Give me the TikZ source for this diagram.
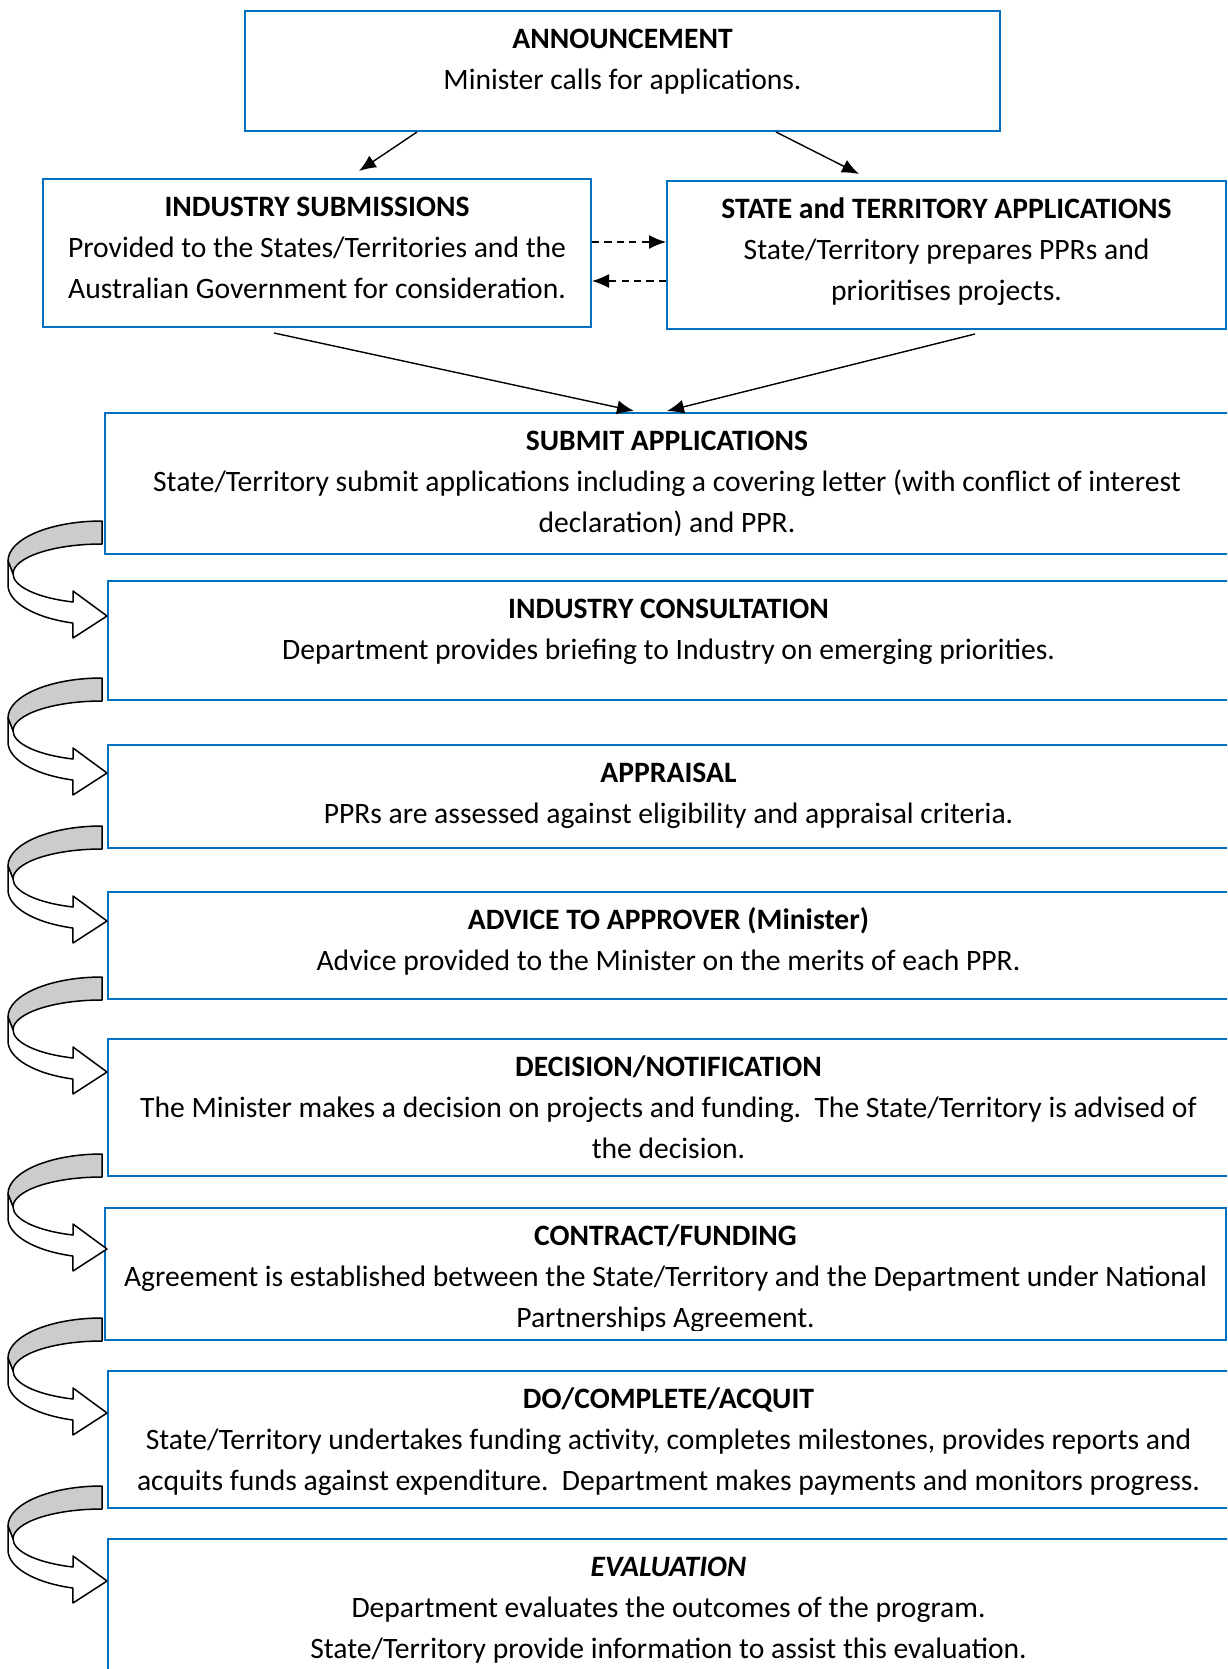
\documentclass[tikz,border=0pt]{standalone}
\usepackage{fontspec}
\setmainfont{Carlito}
\usetikzlibrary{arrows.meta,calc,positioning,fit}
\definecolor{boxblue}{RGB}{0,112,192}
\definecolor{bandgray}{RGB}{204,204,204}

\begin{document}
\begin{tikzpicture}[x=0.5pt,y=-0.5pt,
  box/.style={draw=boxblue,line width=1pt,inner sep=0pt},
  txt/.style={align=center,inner sep=0pt,font=\fontsize{14.8}{20.65}\selectfont},
  link/.style={line width=0.7pt,-{Latex[length=8.5pt,width=7pt]}},
  dlink/.style={link,dash pattern=on 3.6pt off 2.6pt},
  turn/.style={draw=black,line width=0.75pt,line join=round}]
\clip (0,0) rectangle (1227,1669);
\fill[white] (0,0) rectangle (1227,1669);

% top part
\node[box,fit={(245,11)(1000,131)}] (ann) {};
\node[txt,below=4.5pt of ann.north] (ann-t) {\strut\textbf{ANNOUNCEMENT}\\Minister calls for applications.};
\node[box,fit={(43,179)(591,327)}] (indsub) {};
\node[txt,below=4.5pt of indsub.north] (indsub-t) {\strut\textbf{INDUSTRY SUBMISSIONS}\\Provided to the States/Territories and the\\Australian Government for consideration.};
\node[box,fit={(667,181)(1226,329)}] (stateapp) {};
\node[txt,below=4.5pt of stateapp.north] (stateapp-t) {\strut\textbf{STATE and TERRITORY APPLICATIONS}\\State/Territory prepares PPRs and\\prioritises projects.};

\draw[link] ($(ann.south west)+(173,0)$) -- ($(indsub.north west)+(317,-7)$);
\draw[link] ($(ann.south west)+(532,0)$) -- ($(stateapp.north west)+(193,-6)$);
\draw[dlink] ($(indsub.north east)+(0,64)$) -- ($(stateapp.north west)+(0,62)$);
\draw[dlink] ($(stateapp.north west)+(0,101)$) -- ($(indsub.north east)+(0,103)$);

% process steps
\node[box,fit={(105,413)(1229,554)}] (submit) {};
\node[txt,below=4.5pt of submit.north] (submit-t) {\strut\textbf{SUBMIT APPLICATIONS}\\State/Territory submit applications including a covering letter (with conflict of interest\\declaration) and PPR.};
\node[box,fit={(108,581)(1229,700)}] (indcons) {};
\node[txt,below=4.5pt of indcons.north] (indcons-t) {\strut\textbf{INDUSTRY CONSULTATION}\\Department provides briefing to Industry on emerging priorities.};
\node[box,fit={(108,745)(1229,848)}] (appr) {};
\node[txt,below=4.5pt of appr.north] (appr-t) {\strut\textbf{APPRAISAL}\\PPRs are assessed against eligibility and appraisal criteria.};
\node[box,fit={(108,892)(1229,999)}] (advice) {};
\node[txt,below=4.5pt of advice.north] (advice-t) {\strut\textbf{ADVICE TO APPROVER (Minister)}\\Advice provided to the Minister on the merits of each PPR.};
\node[box,fit={(108,1039)(1229,1176)}] (decis) {};
\node[txt,below=4.5pt of decis.north] (decis-t) {\strut\textbf{DECISION/NOTIFICATION}\\The Minister makes a decision on projects and funding.\ \ The State/Territory is advised of\\the decision.};
\node[box,fit={(105,1208)(1226,1340)}] (contract) {};
\begin{scope}
  \clip (contract.north west) rectangle ($(contract.south east)+(0,-11)$);
  \node[txt,below=4.5pt of contract.north] (contract-t) {\strut\textbf{CONTRACT/FUNDING}\\Agreement is established between the State/Territory and the Department under National\\Partnerships Agreement.};
\end{scope}
\node[box,fit={(108,1371)(1229,1508)}] (docomp) {};
\node[txt,below=4.5pt of docomp.north] (docomp-t) {\strut\textbf{DO/COMPLETE/ACQUIT}\\State/Territory undertakes funding activity, completes milestones, provides reports and\\acquits funds against expenditure.\ \ Department makes payments and monitors progress.};
\node[box,fit={(108,1539)(1229,1700)}] (evalu) {};
\node[txt,below=4.5pt of evalu.north] (evalu-t) {\strut\textbf{\textit{EVALUATION}}\\Department evaluates the outcomes of the program.\\State/Territory provide information to assist this evaluation.};

\draw[link] ($(indsub.south west)+(232,5)$) -- ($(submit.north west)+(530,-1)$);
\draw[link] ($(stateapp.south west)+(309,4)$) -- ($(submit.north west)+(563,-1)$);

% u-turn arrows between the steps
\foreach \prev/\dy in {submit/-11,indcons/0,appr/0,advice/0,decis/0,contract/0,docomp/0}{
  \begin{scope}[shift={(0,0 |- \prev.south)}]
    \filldraw[turn,fill=bandgray] (102,\dy-23) arc[start angle=-90,end angle=-180,x radius=94,y radius=40]
      -- (13,\dy+30) arc[start angle=180,end angle=270,x radius=89,y radius=30] -- cycle;
    \filldraw[turn,fill=white] (8,\dy+17) -- (8,\dy+41) arc[start angle=180,end angle=108,x radius=94,y radius=40]
      -- (73,\dy+94) -- (107,\dy+72) -- (73,\dy+47) -- (73,\dy+58)
      arc[start angle=109,end angle=180,x radius=89,y radius=30] -- cycle;
  \end{scope}
}
\end{tikzpicture}
\end{document}
